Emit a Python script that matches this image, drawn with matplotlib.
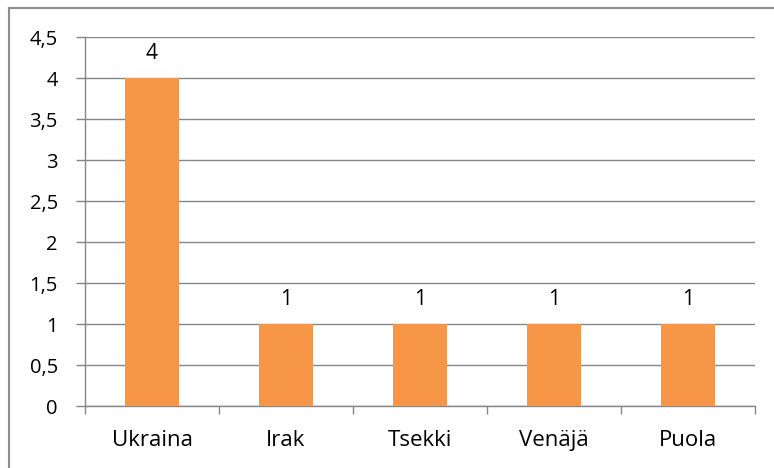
import matplotlib
matplotlib.use("Agg")
import matplotlib.pyplot as plt
from matplotlib.lines import Line2D
import numpy as np

categories = ["Ukraina", "Irak", "Tsekki", "Venäjä", "Puola"]
values = [4, 1, 1, 1, 1]
yticks = [0, 0.5, 1, 1.5, 2, 2.5, 3, 3.5, 4, 4.5]
ytick_labels = ["0", "0,5", "1", "1,5", "2", "2,5", "3", "3,5", "4", "4,5"]

plt.rcParams['font.family'] = ['Open Sans', 'DejaVu Sans']

fig = plt.figure(figsize=(7.74, 4.68), dpi=100)
ax = fig.add_axes([85/774, 1-406/468, (755-85)/774, (406-37)/468])

x = np.arange(len(categories))
bars = ax.bar(x, values, width=0.4, color="#F79646", zorder=3)
for xi, v in zip(x, values):
    ax.annotate(str(v), (xi, v), xytext=(0, 10), textcoords="offset points",
                ha="center", va="bottom", fontsize=15, color="black")

ax.set_xlim(-0.5, len(categories)-0.5)
ax.set_ylim(0, 4.5)
ax.set_yticks(yticks)
ax.set_yticklabels(ytick_labels, fontsize=14.5)
ax.set_xticks(x)
ax.set_xticklabels(categories, fontsize=16)
ax.set_xticks(np.arange(len(categories)+1)-0.5, minor=True)
ax.tick_params(axis='x', which='major', length=0, pad=17)
ax.tick_params(axis='x', which='minor', length=5.5, color="#868686", width=1)
ax.tick_params(axis='y', length=6.5, color="#868686", width=1, pad=13)

ax.yaxis.grid(True, color="#868686", linewidth=1, zorder=0)
for s in ["top", "right"]:
    ax.spines[s].set_visible(False)
for s in ["left", "bottom"]:
    ax.spines[s].set_color("#868686")
    ax.spines[s].set_linewidth(1)

# chart frame (only top and left edges visible in the cropped reference)
fig.lines.append(Line2D([8.5/774, 8.5/774], [0, 1-8/468], transform=fig.transFigure,
                        color="#8c8c8c", linewidth=1.5))
fig.lines.append(Line2D([8.5/774, 1], [1-8/468, 1-8/468], transform=fig.transFigure,
                        color="#8c8c8c", linewidth=1.5))

fig.savefig("out.png", dpi=100)
